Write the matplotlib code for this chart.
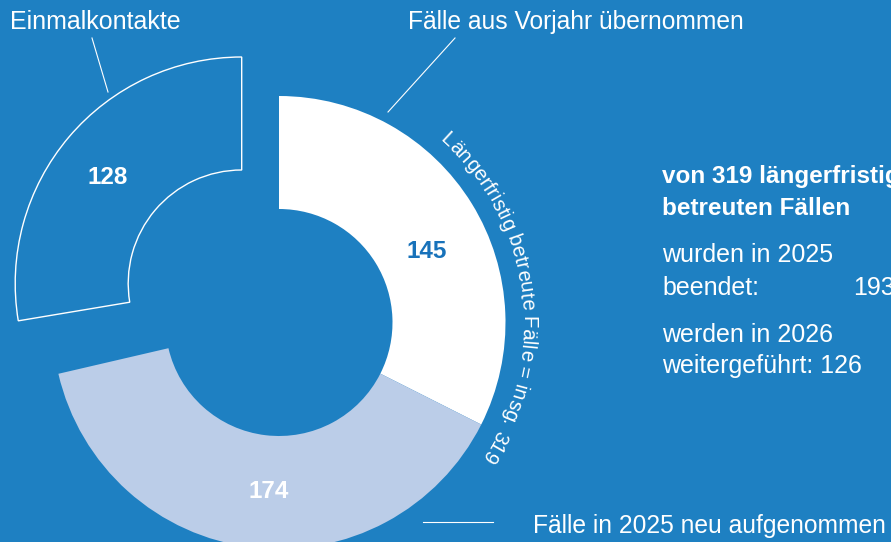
import numpy as np
import matplotlib
matplotlib.use("Agg")
import matplotlib.pyplot as plt
from matplotlib.patches import Wedge
from matplotlib.font_manager import FontProperties, findfont, get_font

# ---------------- data ----------------
segment_names = ["Einmalkontakte", "Fälle aus Vorjahr übernommen", "Fälle in 2025 neu aufgenommen"]
segment_values = [128, 145, 174]
longterm_total = 319
ended_2025 = 193
continued_2026 = 126
arc_label = "Längerfristig betreute Fälle = insg. 319"
info_title = ["von 319 längerfristig", "betreuten Fällen"]
info_lines = ["wurden in 2025", "beendet:", "werden in 2026", "weitergeführt: 126"]

# ---------------- style ----------------
W, H = 891, 542
BG = "#1E80C2"
LIGHT = "#BBCDE8"
DARKNUM = "#1872BA"
FONT = "Liberation Sans"

fig = plt.figure(figsize=(W / 100, H / 100), dpi=100)
fig.patch.set_facecolor(BG)
ax = fig.add_axes([0, 0, 1, 1])
ax.set_xlim(0, W)
ax.set_ylim(0, H)
ax.set_aspect("equal")
ax.axis("off")


def Y(y):
    return H - y


once, carried, new = segment_values
total = sum(segment_values)


def span(v):
    return v / total * 360.0


# main donut, clockwise from 12 o'clock
cx, cy = 279, Y(322.5)
R, r = 226.5, 113.5
a0 = 90.0
a1 = a0 - span(carried)
a2 = a1 - span(new)
ax.add_patch(Wedge((cx, cy), R, a1, a0, width=R - r, facecolor="white", edgecolor="none"))
ax.add_patch(Wedge((cx, cy), R, a2, a1, width=R - r, facecolor=LIGHT, edgecolor="none"))

# exploded, outlined segment (Einmalkontakte)
ex, ey = 241.7, Y(283.5)
pad = 3.6
ax.add_patch(Wedge((ex, ey), R, a0, a2 + 360 - pad, width=R - r,
                   facecolor="none", edgecolor="white", lw=1.0))

# value labels
ax.text(107.5, Y(177.5), str(once), color="white", fontsize=17.5, fontweight="bold",
        family=FONT, ha="center", va="center")
ax.text(427, Y(252), str(carried), color=DARKNUM, fontsize=17.5, fontweight="bold",
        family=FONT, ha="center", va="center")
ax.text(269, Y(491), str(new), color="white", fontsize=17.5, fontweight="bold",
        family=FONT, ha="center", va="center")

# category labels with leader lines
ax.text(10, Y(29), segment_names[0], color="white", fontsize=18, family=FONT,
        ha="left", va="baseline")
ax.plot([92, 108], [Y(38), Y(92)], color="white", lw=0.8)
ax.text(408, Y(29), segment_names[1], color="white", fontsize=17.7, family=FONT,
        ha="left", va="baseline")
ax.plot([455, 388], [Y(38), Y(112)], color="white", lw=0.8)
ax.text(533, Y(533), segment_names[2], color="white", fontsize=17.7, family=FONT,
        ha="left", va="baseline")
ax.plot([423, 493], [Y(522), Y(522)], color="white", lw=0.8)


# curved label along the outer edge
def arc_text(s, ccx, ccy, rad, mid_deg, fs, color):
    fp = FontProperties(family=FONT, size=fs)
    font = get_font(findfont(fp))
    font.set_size(fs, 72)
    adv = np.array([font.load_char(ord(c)).linearHoriAdvance / 65536 * 100 / 72 for c in s])
    tot = adv.sum()
    pos = np.concatenate([[0], np.cumsum(adv)[:-1]]) + adv / 2 - tot / 2
    for c, p in zip(s, pos):
        a = np.radians(mid_deg) - p / rad
        ax.text(ccx + rad * np.cos(a), ccy + rad * np.sin(a), c, fontproperties=fp,
                color=color, rotation=np.degrees(a) - 90, rotation_mode="anchor",
                ha="center", va="baseline")


arc_text(arc_label, cx, cy, 243, 7.3, 14.7, "white")

# info block on the right
tx = 662
ax.text(tx, Y(183), info_title[0], color="white", fontsize=17.5, fontweight="bold",
        family=FONT, ha="left", va="baseline")
ax.text(tx, Y(215), info_title[1], color="white", fontsize=17.5, fontweight="bold",
        family=FONT, ha="left", va="baseline")
ax.text(tx, Y(262), info_lines[0], color="white", fontsize=18, family=FONT,
        ha="left", va="baseline")
ax.text(tx, Y(295), info_lines[1], color="white", fontsize=18, family=FONT,
        ha="left", va="baseline")
ax.text(853, Y(295), str(ended_2025), color="white", fontsize=18, family=FONT,
        ha="left", va="baseline")
ax.text(tx, Y(342), info_lines[2], color="white", fontsize=18, family=FONT,
        ha="left", va="baseline")
ax.text(tx, Y(373), info_lines[3], color="white", fontsize=18, family=FONT,
        ha="left", va="baseline")

fig.savefig("out.png", dpi=100, facecolor=BG)
